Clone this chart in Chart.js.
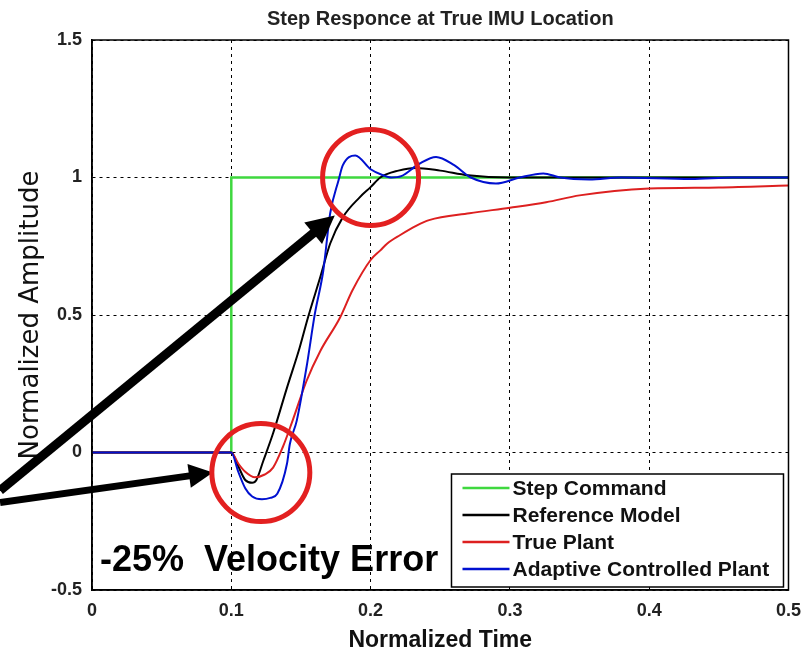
<!DOCTYPE html>
<html>
<head>
<meta charset="utf-8">
<title>Step Responce at True IMU Location</title>
<script src="https://cdn.jsdelivr.net/npm/chart.js@4.4.0/dist/chart.umd.min.js"></script>
<style>
  html, body { margin: 0; padding: 0; background: #fff; }
</style>
</head>
<body>
<canvas id="step-chart" width="811" height="657"></canvas>
<script>
// tick labels
const xTicks = [0, 0.1, 0.2, 0.3, 0.4, 0.5];
const xTickLabels = ['0', '0.1', '0.2', '0.3', '0.4', '0.5'];
const yTicks = [-0.5, 0, 0.5, 1, 1.5];
const yTickLabels = ['-0.5', '0', '0.5', '1', '1.5'];

const seriesNames = ['Step Command', 'Reference Model', 'True Plant', 'Adaptive Controlled Plant'];

// step command
const stepTime = [0, 0.1, 0.1, 0.5];
const stepValue = [0, 0, 1, 1];

// reference model
const refTime = [0, 0.1, 0.105, 0.11, 0.115, 0.118, 0.123, 0.13, 0.14, 0.149, 0.155, 0.164, 0.171, 0.18, 0.192, 0.2, 0.207, 0.22, 0.232, 0.25, 0.27, 0.3, 0.5];
const refValue = [0, 0, -0.05, -0.1, -0.11, -0.1, -0.03, 0.07, 0.236, 0.38, 0.49, 0.64, 0.76, 0.855, 0.927, 0.965, 1.0, 1.025, 1.035, 1.025, 1.008, 1.0, 1.0];

// true plant
const plantTime = [0, 0.1, 0.105, 0.11, 0.117, 0.124, 0.13, 0.137, 0.144, 0.154, 0.164, 0.178, 0.187, 0.2, 0.207, 0.212, 0.221, 0.233, 0.242, 0.271, 0.3, 0.326, 0.35, 0.4, 0.45, 0.5];
const plantValue = [0, 0, -0.04, -0.07, -0.09, -0.08, -0.055, 0.02, 0.116, 0.26, 0.37, 0.49, 0.59, 0.7, 0.735, 0.76, 0.79, 0.825, 0.845, 0.87, 0.89, 0.91, 0.935, 0.96, 0.964, 0.971];

// adaptive controlled plant
const adaptTime = [0, 0.1, 0.105, 0.11, 0.115, 0.122, 0.128, 0.133, 0.14, 0.142, 0.147, 0.154, 0.16, 0.166, 0.171, 0.177, 0.18, 0.189, 0.2, 0.208, 0.215, 0.222, 0.235, 0.247, 0.26, 0.272, 0.29, 0.307, 0.324, 0.336, 0.357, 0.38, 0.43, 0.46, 0.5];
const adaptValue = [0, 0, -0.07, -0.13, -0.16, -0.17, -0.165, -0.15, -0.04, 0.03, 0.116, 0.31, 0.505, 0.66, 0.87, 0.99, 1.044, 1.08, 1.03, 1.01, 1.0, 1.005, 1.05, 1.075, 1.045, 1.0, 0.978, 1.0, 1.015, 1.0, 0.993, 1.0, 0.995, 1.0, 1.0];

const seriesColors = ['#3fd83f', '#000000', '#dd2020', '#0010d0'];

// annotations (data coords)
const annotationText = '-25%  Velocity Error';
const circleSpots = [{ t: 0.2, v: 1.0, r: 48 }, { t: 0.1212, v: -0.073, r: 49 }];
const arrowSpots = [
    { t0: -0.066, v0: -0.138, t1: 0.1743, v1: 0.862, w: 9, head: 28 },
    { t0: -0.066, v0: -0.182, t1: 0.0868, v1: -0.073, w: 7, head: 24 }
];

function toPoints(ts, vs) {
    return ts.map((t, i) => ({ x: t, y: vs[i] }));
}

function drawArrow(ctx, x0, y0, x1, y1, w, head) {
    let ang = Math.atan2(y1 - y0, x1 - x0);
    let bx = x1 - Math.cos(ang) * head;
    let by = y1 - Math.sin(ang) * head;
    ctx.lineWidth = w;
    ctx.lineCap = 'butt';
    ctx.beginPath();
    ctx.moveTo(x0, y0);
    ctx.lineTo(bx + Math.cos(ang) * 2, by + Math.sin(ang) * 2);
    ctx.stroke();
    let hw = head * 0.5;
    ctx.beginPath();
    ctx.moveTo(x1, y1);
    ctx.lineTo(bx + Math.sin(ang) * hw, by - Math.cos(ang) * hw);
    ctx.lineTo(bx - Math.sin(ang) * hw, by + Math.cos(ang) * hw);
    ctx.closePath();
    ctx.fill();
}

const overlayPlugin = {
    id: 'overlay',
    afterDatasetsDraw(chart) {
        const ctx = chart.ctx;
        const a = chart.chartArea;
        const xs = chart.scales.x;
        const ys = chart.scales.y;
        ctx.save();
        ctx.setLineDash([]);

        // plot frame
        ctx.strokeStyle = '#000';
        ctx.lineWidth = 1.5;
        ctx.strokeRect(a.left, a.top, a.right - a.left, a.bottom - a.top);

        // arrows
        ctx.strokeStyle = '#000';
        ctx.fillStyle = '#000';
        arrowSpots.forEach(s => {
            drawArrow(ctx, xs.getPixelForValue(s.t0), ys.getPixelForValue(s.v0),
                xs.getPixelForValue(s.t1), ys.getPixelForValue(s.v1), s.w, s.head);
        });

        // red circles
        ctx.strokeStyle = '#e32020';
        ctx.lineWidth = 5;
        circleSpots.forEach(c => {
            ctx.beginPath();
            ctx.arc(xs.getPixelForValue(c.t), ys.getPixelForValue(c.v), c.r, 0, Math.PI * 2);
            ctx.stroke();
        });

        // velocity error text
        ctx.fillStyle = '#000';
        ctx.font = 'bold 36px "Liberation Sans", Arial, sans-serif';
        ctx.textAlign = 'left';
        ctx.textBaseline = 'alphabetic';
        ctx.fillText(annotationText, a.left + 8, a.bottom - 19);

        // legend box
        let bx = a.right - 337, by = a.bottom - 116, bw = 332, bh = 113;
        ctx.fillStyle = '#fff';
        ctx.fillRect(bx, by, bw, bh);
        ctx.strokeStyle = '#000';
        ctx.lineWidth = 1.5;
        ctx.strokeRect(bx, by, bw, bh);
        ctx.font = 'bold 21px "Liberation Sans", Arial, sans-serif';
        ctx.textBaseline = 'middle';
        seriesNames.forEach((name, i) => {
            let ry = by + 14 + i * 27;
            ctx.strokeStyle = seriesColors[i];
            ctx.lineWidth = 2.5;
            ctx.beginPath();
            ctx.moveTo(bx + 11, ry);
            ctx.lineTo(bx + 58, ry);
            ctx.stroke();
            ctx.fillStyle = '#111';
            ctx.fillText(name, bx + 61, ry + 1);
        });
        ctx.restore();
    }
};

function renderStepChart() {
    let ctx = document.getElementById('step-chart');
    let lineStyle = { pointRadius: 0, borderWidth: 2, fill: false, cubicInterpolationMode: 'monotone' };

    new Chart(ctx, {
        type: 'line',
        data: {
            datasets: [
                Object.assign({}, lineStyle, { label: seriesNames[0], data: toPoints(stepTime, stepValue), borderColor: seriesColors[0], borderWidth: 2.5, tension: 0, cubicInterpolationMode: 'default', order: 4 }),
                Object.assign({}, lineStyle, { label: seriesNames[1], data: toPoints(refTime, refValue), borderColor: seriesColors[1], order: 3 }),
                Object.assign({}, lineStyle, { label: seriesNames[2], data: toPoints(plantTime, plantValue), borderColor: seriesColors[2], order: 2 }),
                Object.assign({}, lineStyle, { label: seriesNames[3], data: toPoints(adaptTime, adaptValue), borderColor: seriesColors[3], order: 1 })
            ]
        },
        options: {
            responsive: false,
            animation: false,
            devicePixelRatio: 1,
            layout: { padding: { left: 0, right: 22, top: 0, bottom: 0 } },
            plugins: {
                legend: { display: false },
                tooltip: { enabled: false },
                title: {
                    display: true,
                    fullSize: false,
                    text: 'Step Responce at True IMU Location',
                    color: '#222',
                    font: { family: '"Liberation Sans", Arial, sans-serif', size: 20, weight: 'bold', lineHeight: 1.2 },
                    padding: { top: 7, bottom: 9 }
                }
            },
            scales: {
                x: {
                    type: 'linear',
                    min: 0,
                    max: 0.5,
                    afterBuildTicks: s => { s.ticks = xTicks.map(v => ({ value: v })); },
                    afterFit: s => { s.height = 67; },
                    ticks: {
                        callback: (v, i) => xTickLabels[i],
                        color: '#222',
                        padding: 10,
                        maxRotation: 0,
                        font: { family: '"Liberation Sans", Arial, sans-serif', size: 18, weight: 'bold' }
                    },
                    grid: { color: '#000', lineWidth: 1, drawTicks: false },
                    border: { display: true, color: '#000', width: 1.5, dash: [3, 4] },
                    title: {
                        display: true,
                        text: 'Normalized Time',
                        color: '#111',
                        font: { family: '"Liberation Sans", Arial, sans-serif', size: 23, weight: 'bold' },
                        padding: { top: 0, bottom: 3 }
                    }
                },
                y: {
                    min: -0.5,
                    max: 1.5,
                    afterBuildTicks: s => { s.ticks = yTicks.map(v => ({ value: v })); },
                    afterFit: s => { s.width = 92; },
                    ticks: {
                        callback: (v, i) => yTickLabels[i],
                        color: '#222',
                        padding: 10,
                        font: { family: '"Liberation Sans", Arial, sans-serif', size: 18, weight: 'bold' }
                    },
                    grid: { color: '#000', lineWidth: 1, drawTicks: false },
                    border: { display: true, color: '#000', width: 1.5, dash: [3, 4] },
                    title: {
                        display: true,
                        text: 'Normalized Amplitude',
                        color: '#111',
                        font: { family: '"DejaVu Sans", sans-serif', size: 26, weight: 'normal' },
                        padding: { top: 16, bottom: 0 }
                    }
                }
            }
        },
        plugins: [overlayPlugin]
    });
}

renderStepChart();
</script>
</body>
</html>
